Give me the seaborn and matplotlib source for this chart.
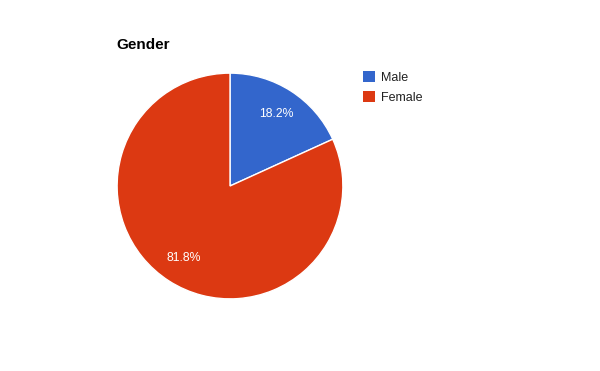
import matplotlib
matplotlib.use("Agg")
import matplotlib.pyplot as plt
import seaborn as sns

categories = ["Male", "Female"]
values = [18.2, 81.8]
colors = ["#3366CC", "#DC3912"]
title = "Gender"

sns.set_theme(style="white")
plt.rcParams['font.family'] = ['Arial', 'Liberation Sans', 'DejaVu Sans']

fig = plt.figure(figsize=(6, 3.71), dpi=100)
cx, cy, r = 230, 186, 114
W, H = 600, 371
ax = fig.add_axes([(cx - r) / W, (H - cy - r) / H, 2 * r / W, 2 * r / H])
wedges, texts, autotexts = ax.pie(
    values, colors=colors, startangle=90, counterclock=False,
    autopct='%1.1f%%', pctdistance=0.76, radius=1,
    wedgeprops=dict(edgecolor='white', linewidth=1),
    textprops=dict(color='white', fontsize=8.8))
ax.set_xlim(-1.01, 1.01)
ax.set_ylim(-1.01, 1.01)
ax.set_aspect('equal')
ax.axis('off')

fig.text(116 / W, 1 - 45 / H, title, fontsize=11, fontweight='bold',
         color='black', ha='left', va='center')

leg = fig.legend(wedges, categories, loc='upper left',
                 bbox_to_anchor=(363 / W, 1 - 71 / H),
                 frameon=False, borderpad=0, borderaxespad=0,
                 handlelength=0.95, handleheight=0.95, handletextpad=0.45,
                 labelspacing=0.62, fontsize=9)
for t in leg.get_texts():
    t.set_color('#222222')
for h in leg.legend_handles:
    h.set_edgecolor('none')

fig.savefig("out.png", dpi=100, facecolor='white')
